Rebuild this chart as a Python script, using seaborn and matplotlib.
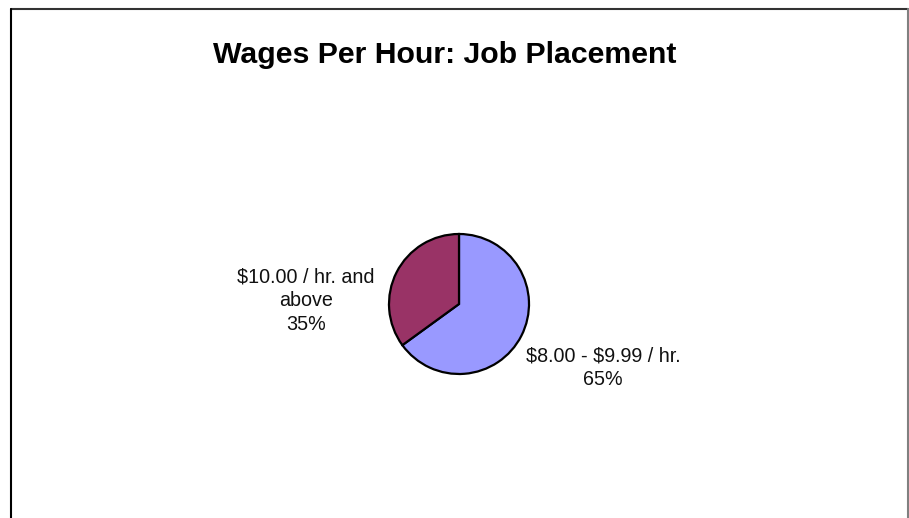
import matplotlib
matplotlib.use("Agg")
import matplotlib.pyplot as plt
import seaborn as sns
from matplotlib.lines import Line2D

# Data
categories = ["$8.00 - $9.99 / hr.", "$10.00 / hr. and\nabove"]
values = [65, 35]
colors = ["#9999FF", "#993366"]
title = "Wages Per Hour: Job Placement"

sns.set_theme(style="white")
plt.rcParams['font.family'] = ['Liberation Sans', 'DejaVu Sans']
plt.rcParams['text.parse_math'] = False

fig = plt.figure(figsize=(9.09, 5.18), dpi=100)
fig.patch.set_facecolor("white")
ax = fig.add_axes([0, 0, 1, 1])

total = sum(values)
labels = [f"{c}\n{round(v / total * 100)}%" for c, v in zip(categories, values)]
wedges, texts = ax.pie(values, colors=colors, startangle=90, counterclock=False,
                       labels=labels, labeldistance=2.2,
                       wedgeprops=dict(edgecolor="black", linewidth=1.6),
                       textprops=dict(fontsize=14.2, color="#111111", ha="center",
                                      va="center", linespacing=1.3))

# pixel-based layout: 1 data unit == 70 px (pie radius)
R = 70.0
cx, cy = 459.0, 304.0
ax.set_xlim(-cx / R, (909 - cx) / R)
ax.set_ylim(-(518 - cy) / R, cy / R)
ax.set_aspect('auto')
ax.axis('off')

def px(x, y):
    return ((x - cx) / R, (cy - y) / R)

texts[0].set_position(px(603, 368))
texts[1].set_position(px(306, 301))

fig.text(445 / 909, 1 - 55 / 518, title, ha="center", va="center",
         fontsize=21.8, fontweight="bold", color="black")

# outer border
fig.add_artist(Line2D([10.5 / 909, 908 / 909], [1 - 9 / 518, 1 - 9 / 518],
                      transform=fig.transFigure, color="#333333", lw=1.5))
fig.add_artist(Line2D([10.5 / 909, 10.5 / 909], [0, 1 - 9 / 518],
                      transform=fig.transFigure, color="black", lw=1.5))
fig.add_artist(Line2D([907.5 / 909, 907.5 / 909], [0, 1 - 9 / 518],
                      transform=fig.transFigure, color="#808080", lw=1.5))

fig.savefig("out.png", dpi=100, facecolor="white")
